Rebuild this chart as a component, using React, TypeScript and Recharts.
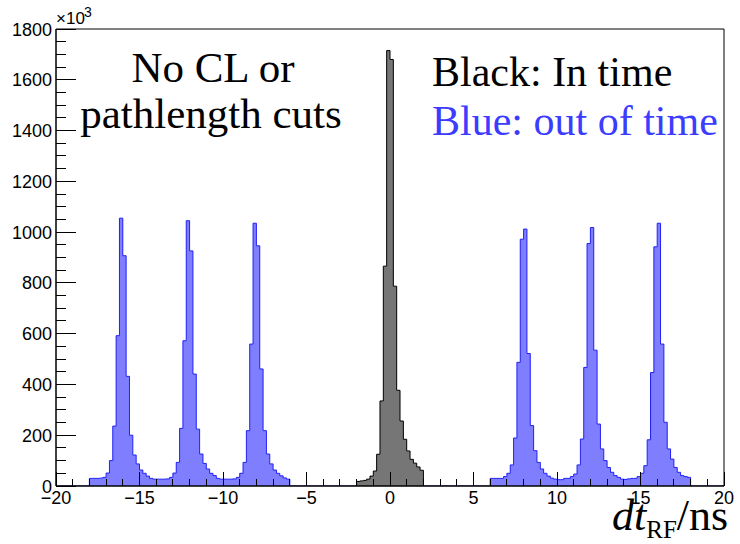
import React from 'react';
import { ComposedChart, Area, XAxis, YAxis, ReferenceArea, ReferenceLine } from 'recharts';

// Histogram bin width (ns) and the start edges of each filled region
const BIN_WIDTH = 0.2;
const BLUE_LEFT_START = -18;
const BLUE_RIGHT_START = 6;
const BLACK_START = -2;

// Out-of-time (blue) counts, x10^3, bins from -18 to -6 ns
const blueLeft = [
  30, 30, 30, 31, 34, 51, 100, 236, 592, 1055, 907, 432, 200, 122, 87, 63, 50, 39, 30, 27,
  27, 27, 27, 28, 34, 51, 93, 227, 572, 1045, 926, 441, 224, 126, 89, 67, 50, 41, 30, 27,
  27, 27, 27, 28, 34, 50, 93, 218, 559, 1035, 946, 461, 218, 126, 87, 63, 50, 40, 32, 27,
];

// Out-of-time (blue) counts, x10^3, bins from 6 to 18 ns
const blueRight = [
  30, 30, 30, 30, 37, 50, 83, 189, 487, 972, 1012, 522, 238, 139, 93, 67, 50, 39, 31, 27,
  25, 25, 30, 30, 37, 47, 83, 185, 467, 955, 1018, 535, 244, 146, 100, 73, 54, 41, 34, 27,
  26, 28, 30, 30, 37, 50, 80, 182, 447, 942, 1035, 559, 251, 146, 106, 73, 54, 41, 37, 34,
];

// In-time (black) counts, x10^3, bins from -2 to 2 ns
const black = [18, 20, 22, 27, 39, 59, 125, 335, 866, 1715, 1680, 787, 377, 256, 184, 138, 105, 90, 75, 62];

const xTicks = [
  -20, -19, -18, -17, -16, -15, -14, -13, -12, -11, -10, -9, -8, -7, -6, -5, -4, -3, -2, -1, 0,
  1, 2, 3, 4, 5, 6, 7, 8, 9, 10, 11, 12, 13, 14, 15, 16, 17, 18, 19, 20,
];
const xMajor = [-20, -15, -10, -5, 0, 5, 10, 15, 20];

const yTicks = [
  0, 50, 100, 150, 200, 250, 300, 350, 400, 450, 500, 550, 600, 650, 700, 750, 800, 850, 900,
  950, 1000, 1050, 1100, 1150, 1200, 1250, 1300, 1350, 1400, 1450, 1500, 1550, 1600, 1650, 1700, 1750, 1800,
];
const yMajor = [0, 200, 400, 600, 800, 1000, 1200, 1400, 1600, 1800];

// tick mark lengths expressed in y-axis units (so the overlay ticks sit above the fills)
const X_MAJOR_TICK_LEN = 54;
const X_MINOR_TICK_LEN = 27;

const r = (v: number) => Math.round(v * 1000) / 1000;

type Pt = { x: number; v: number };

// bin-edge points for a step (stepAfter) outline: rise at first edge, drop at last edge
function binPoints(start: number, values: number[]): Pt[] {
  const pts: Pt[] = [{ x: start, v: 0 }];
  values.forEach((v, i) => pts.push({ x: r(start + i * BIN_WIDTH), v }));
  pts.push({ x: r(start + values.length * BIN_WIDTH), v: 0 });
  return pts;
}

const blueData: Pt[] = [
  { x: -20, v: 0 },
  ...binPoints(BLUE_LEFT_START, blueLeft),
  ...binPoints(BLUE_RIGHT_START, blueRight),
  { x: 20, v: 0 },
];
const blackData: Pt[] = binPoints(BLACK_START, black);

const fmt = (v: number) => (v < 0 ? '\u2212' + Math.abs(v) : String(v));

const XTick = (props: any) => {
  const { x, y, payload } = props;
  const v = payload.value;
  const major = xMajor.includes(v);
  return (
    <g>
      <line x1={x} x2={x} y1={y} y2={y - (major ? 14 : 7)} stroke="#000" shapeRendering="crispEdges" />
      {major && (
        <text x={x} y={y + 18} textAnchor="middle" fontFamily="'Liberation Sans', Arial, sans-serif" fontSize={18} fill="#000">
          {fmt(v)}
        </text>
      )}
    </g>
  );
};

const YTick = (props: any) => {
  const { x, y, payload } = props;
  const v = payload.value;
  const major = yMajor.includes(v);
  return (
    <g>
      <line x1={x} x2={x + (major ? 20 : 10)} y1={y} y2={y} stroke="#000" shapeRendering="crispEdges" />
      {major && (
        <text x={x - 4} y={y + 6.5} textAnchor="end" fontFamily="'Liberation Sans', Arial, sans-serif" fontSize={18} fill="#000">
          {v}
        </text>
      )}
    </g>
  );
};

export default function App() {
  return (
    <div style={{ position: 'absolute', left: 0, top: 0, width: 740, height: 544, background: '#fff' }}>
      <ComposedChart width={740} height={544} margin={{ top: 29, right: 16, bottom: 0, left: 0 }}>
        <XAxis
          dataKey="x"
          type="number"
          domain={[-20, 20]}
          ticks={xTicks}
          interval={0}
          height={58}
          tickSize={0}
          tickMargin={0}
          tickLine={false}
          axisLine={{ stroke: '#000' }}
          tick={<XTick />}
          allowDataOverflow
        />
        <YAxis
          type="number"
          domain={[0, 1800]}
          ticks={yTicks}
          interval={0}
          width={56}
          tickSize={0}
          tickMargin={0}
          tickLine={false}
          axisLine={{ stroke: '#000' }}
          tick={<YTick />}
          allowDataOverflow
        />
        <Area
          data={blueData}
          dataKey="v"
          name="out of time"
          type="stepAfter"
          stroke="#2020f8"
          strokeWidth={1}
          fill="#7e7eff"
          fillOpacity={1}
          isAnimationActive={false}
          dot={false}
          activeDot={false}
        />
        <Area
          data={blackData}
          dataKey="v"
          name="in time"
          type="stepAfter"
          stroke="#000"
          strokeWidth={1}
          fill="#767676"
          fillOpacity={1}
          isAnimationActive={false}
          dot={false}
          activeDot={false}
        />
        {xTicks.map((t) => (
          <ReferenceLine
            key={'xt' + t}
            segment={[
              { x: t, y: 0 },
              { x: t, y: xMajor.includes(t) ? X_MAJOR_TICK_LEN : X_MINOR_TICK_LEN },
            ]}
            stroke="#000"
            strokeWidth={1}
            shapeRendering="crispEdges"
          />
        ))}
        <ReferenceArea x1={-20} x2={20} y1={0} y2={1800} fill="none" stroke="#000" strokeWidth={1} />
      </ComposedChart>
      <svg width={740} height={544} style={{ position: 'absolute', left: 0, top: 0, pointerEvents: 'none' }}>
        <text x={56} y={24} fontFamily="'Liberation Sans', Arial, sans-serif" fontSize={17} fill="#000">
          ×10
        </text>
        <text x={84} y={17} fontFamily="'Liberation Sans', Arial, sans-serif" fontSize={14} fill="#000">
          3
        </text>
        <g fontFamily="'Liberation Serif', 'Times New Roman', serif">
          <text x={213} y={82} fontSize={43} textAnchor="middle" fill="#000">No CL or</text>
          <text x={211} y={128} fontSize={43} textAnchor="middle" fill="#000">pathlength cuts</text>
          <text x={432} y={86} fontSize={42} fill="#000">Black: In time</text>
          <text x={432} y={135} fontSize={42} fill="#3c3cff">Blue: out of time</text>
          <text x={612} y={530} fontSize={44} fill="#000">
            <tspan fontStyle="italic">dt</tspan>
            <tspan fontSize={25} dy={8}>RF</tspan>
            <tspan dy={-8}>/ns</tspan>
          </text>
        </g>
      </svg>
    </div>
  );
}
